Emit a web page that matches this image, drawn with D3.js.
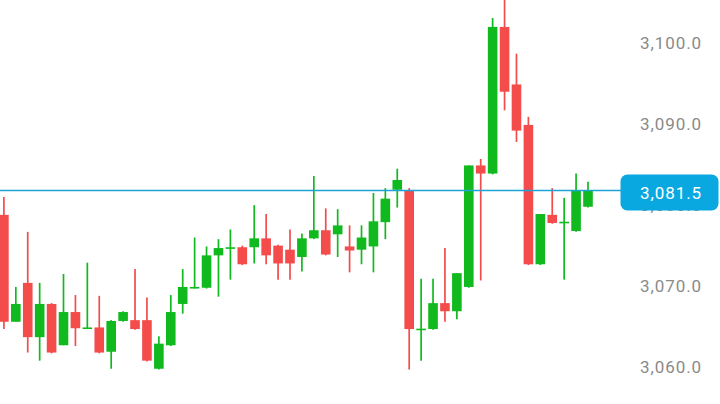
<!DOCTYPE html>
<html>
<head>
<meta charset="utf-8">
<script src="https://cdn.jsdelivr.net/npm/d3@7/dist/d3.min.js"></script>
<style>
  html, body { margin: 0; padding: 0; background: #ffffff; }
  svg { display: block; }
</style>
</head>
<body>
<svg id="chart" width="720" height="404"></svg>
<script>
const opens  = [3078.5,3065.3,3070.1,3063.4,3067.5,3062.4,3066.5,3064.5,3064.6,3061.6,
                3065.4,3065.5,3065.5,3059.5,3062.4,3067.5,3069.5,3069.5,3073.5,3074.4,
                3074.5,3074.5,3075.6,3074.7,3074.2,3073.3,3075.6,3076.6,3076.1,3074.6,
                3074.2,3074.6,3077.6,3081.6,3081.5,3064.4,3064.4,3067.6,3066.6,3069.6,
                3084.6,3083.6,3101.7,3094.6,3089.6,3072.4,3078.5,3077.6,3076.5,3079.5];
const highs  = [3080.7,3069.6,3076.4,3070.1,3067.6,3071.2,3068.6,3072.6,3068.5,3065.5,
                3066.6,3071.8,3068.3,3063.5,3068.6,3071.8,3075.7,3074.6,3075.5,3076.7,
                3074.7,3079.7,3078.6,3074.8,3076.7,3076.2,3083.3,3079.3,3079.2,3077.2,
                3077.2,3081.2,3081.8,3084.2,3081.8,3070.6,3070.6,3074.4,3071.3,3084.6,
                3085.4,3102.8,3105.5,3098.4,3090.6,3078.6,3081.8,3080.6,3083.6,3082.6];
const lows   = [3064.4,3065.3,3061.5,3060.5,3061.4,3062.4,3062.3,3064.4,3061.4,3059.5,
                3065.3,3064.3,3060.4,3059.4,3062.3,3066.3,3069.4,3069.4,3068.4,3070.5,
                3072.3,3072.5,3072.4,3070.5,3070.5,3071.5,3075.5,3073.5,3073.3,3071.4,
                3072.4,3071.4,3075.5,3079.4,3059.4,3060.5,3064.3,3065.3,3065.6,3069.5,
                3070.4,3083.5,3091.4,3087.5,3072.3,3072.3,3077.4,3070.5,3076.4,3079.4];
const closes = [3065.3,3067.5,3063.4,3067.5,3061.5,3066.5,3064.5,3064.6,3061.5,3065.4,
                3066.5,3064.4,3060.5,3062.6,3066.5,3069.6,3069.6,3073.5,3074.4,3074.5,
                3072.4,3075.6,3073.5,3072.5,3072.5,3075.6,3076.6,3073.6,3077.2,3074.1,
                3075.7,3077.7,3080.5,3082.8,3064.4,3064.45,3067.6,3066.6,3071.3,3084.6,
                3083.6,3101.7,3093.7,3088.9,3072.4,3078.6,3077.5,3077.65,3081.5,3081.5];
const yTicks = [3060, 3070, 3080, 3090, 3100];
const lastPrice = 3081.5;

const candles = opens.map((o, i) => ({ i, o, h: highs[i], l: lows[i], c: closes[i] }));

const svg = d3.select("#chart");
const W = 720, H = 404;
const UP = "#10b91e", DOWN = "#f44b4b", LINE = "#1ea3d6", BOX = "#0aa8e0";

const x = d3.scaleLinear().domain([0, candles.length - 1]).range([3.9, 588]);
const y = d3.scaleLinear().domain([3060, 3100]).range([364.7, 40.7]);
const bodyW = 9.6;

// y-axis labels (right side)
const axis = d3.axisRight(y).tickValues(yTicks).tickSize(0).tickFormat(d3.format(",.1f"));
const ag = svg.append("g").attr("transform", "translate(702,2)").call(axis);
ag.select(".domain").remove();
ag.selectAll("text")
  .attr("x", 0)
  .attr("dy", "0.35em")
  .attr("text-anchor", "end")
  .attr("fill", "#8a8a8a")
  .style("font-family", "Roboto, 'Noto Sans', sans-serif")
  .style("font-size", "17px")
  .style("letter-spacing", "0.9px");

// candles
const g = svg.append("g");
const cg = g.selectAll("g.candle").data(candles).enter().append("g")
  .attr("class", "candle");

cg.append("line")
  .attr("x1", d => x(d.i)).attr("x2", d => x(d.i))
  .attr("y1", d => y(d.h)).attr("y2", d => y(d.l))
  .attr("stroke", d => d.c >= d.o ? UP : DOWN)
  .attr("stroke-width", 1.7);

cg.append("rect")
  .attr("x", d => x(d.i) - bodyW / 2)
  .attr("width", bodyW)
  .attr("y", d => y(Math.max(d.o, d.c)))
  .attr("height", d => Math.max(1.6, Math.abs(y(d.o) - y(d.c))))
  .attr("fill", d => d.c >= d.o ? UP : DOWN);

// last price line
svg.append("line")
  .attr("x1", 0).attr("x2", 622)
  .attr("y1", y(lastPrice)).attr("y2", y(lastPrice))
  .attr("stroke", LINE).attr("stroke-width", 1.6);

// price box
const by = y(lastPrice) + 2;
svg.append("rect")
  .attr("x", 620.5).attr("y", by - 18)
  .attr("width", 98).attr("height", 36)
  .attr("rx", 7).attr("ry", 7)
  .attr("fill", BOX);
svg.append("text")
  .attr("x", 702).attr("y", by)
  .attr("dy", "0.35em")
  .attr("text-anchor", "end")
  .attr("fill", "#ffffff")
  .style("font-family", "Roboto, 'Noto Sans', sans-serif")
  .style("font-size", "17px")
  .style("letter-spacing", "0.9px")
  .text(d3.format(",.1f")(lastPrice));
</script>
</body>
</html>
